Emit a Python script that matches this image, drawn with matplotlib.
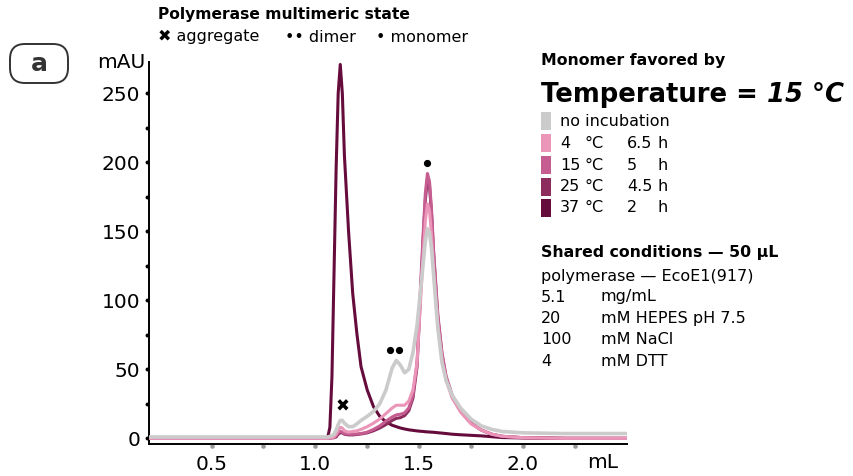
import matplotlib
matplotlib.use("Agg")
import matplotlib.pyplot as plt
from matplotlib.patches import FancyBboxPatch, Rectangle
import matplotlib.transforms as mtransforms

plt.rcParams['font.family'] = ['DejaVu Sans']

# elution volume (mL)
volume = [0.20, 0.60, 1.00, 1.05, 1.06, 1.07, 1.08, 1.09, 1.10, 1.11, 1.12, 1.13, 1.14,
          1.16, 1.18, 1.20, 1.22, 1.25, 1.28, 1.31, 1.34, 1.37, 1.39, 1.41, 1.43, 1.45,
          1.47, 1.49, 1.51, 1.52, 1.53, 1.54, 1.55, 1.56, 1.57, 1.59, 1.61, 1.63, 1.66,
          1.70, 1.75, 1.80, 1.85, 1.90, 2.00, 2.20, 2.50]

# absorbance (mAU) per condition
no_incubation = [1, 1, 1, 1, 1, 1.5, 2, 3, 6, 10, 13, 13, 11,
                 8.5, 8.5, 10.5, 13, 16, 19.5, 25, 35, 51, 56.5, 53, 47.5, 50,
                 62, 82, 112, 128, 143, 152, 149, 137, 118, 80, 55, 42, 31,
                 22, 14, 9, 6.5, 5, 4, 3.5, 3.5]
c4_6h5 = [0, 0, 0, 0, 0, 0.3, 0.5, 1, 3, 6, 8, 7.5, 5.5,
          4.5, 5, 5.5, 6.5, 8.5, 11, 14, 18, 22, 24, 24, 24, 27,
          35, 55, 108, 135, 158, 170, 165, 147, 121, 82, 57, 42, 29,
          19, 10.5, 6, 3, 1.5, 0.5, 0, 0]
c15_5h = [0, 0, 0, 0, 0, 0.2, 0.4, 0.5, 2, 4, 5, 4.5, 3.5,
          3, 3, 3.2, 3.5, 4.5, 6.5, 9, 12.5, 15.5, 17, 17.5, 18.5, 22,
          31, 55, 120, 150, 178, 192, 186, 165, 135, 90, 62, 45, 31,
          20, 11, 6, 3, 1.5, 0.5, 0, 0]
c25_4h5 = [0, 0, 0, 0, 0, 0.2, 0.4, 0.5, 1, 3, 4, 4, 3,
           2.5, 2.5, 2.8, 3.2, 4, 5.5, 7.5, 10, 13, 14.5, 15, 16.5, 20,
           29, 52, 115, 146, 173, 188, 183, 162, 133, 88, 61, 44, 30,
           19.5, 11, 6, 3, 1.5, 0.5, 0, 0]
c37_2h = [0, 0, 0, 0.3, 1, 8, 45, 120, 195, 250, 271, 250, 205,
          150, 105, 76, 52, 35, 23, 16, 12, 9.5, 8.5, 7.5, 6.8, 6.2,
          5.8, 5.4, 5.1, 5, 4.8, 4.7, 4.6, 4.5, 4.4, 4.1, 3.8, 3.5, 3,
          2.6, 2.2, 1.8, 1.2, 0.6, 0.3, 0, 0]

labels = ["no incubation", "4", "15", "25", "37"]
times = ["", "6.5", "5", "4.5", "2"]
colors = ["#cbcbcb", "#eb95b9", "#c65d91", "#8c2d5e", "#650c3c"]

W, H = 854, 476


def fx(x):
    return x / W


def fy(y):
    return 1 - y / H


fig = plt.figure(figsize=(W / 100, H / 100), dpi=100)
ax = fig.add_axes([fx(149.3), fy(444.3), (626.7 - 149.3) / W, (444.3 - 61.7) / H])

ax.plot(volume, c37_2h, color=colors[4], lw=2.2, solid_capstyle='round', zorder=3)
ax.plot(volume, c25_4h5, color=colors[3], lw=2.2, solid_capstyle='round', zorder=4)
ax.plot(volume, c15_5h, color=colors[2], lw=2.2, solid_capstyle='round', zorder=5)
ax.plot(volume, c4_6h5, color=colors[1], lw=2.2, solid_capstyle='round', zorder=6)
ax.plot(volume, no_incubation, color=colors[0], lw=2.6, solid_capstyle='round', zorder=7)

ax.set_xlim(0.2, 2.5)
ax.set_ylim(-4.3, 273)
for s in ['top', 'right']:
    ax.spines[s].set_visible(False)
for s in ['left', 'bottom']:
    ax.spines[s].set_linewidth(1.4)
    ax.spines[s].set_color('black')

ax.set_xticks([0.5, 1.0, 1.5, 2.0])
ax.set_xticklabels(["0.5", "1.0", "1.5", "2.0"])
ax.set_yticks([0, 50, 100, 150, 200, 250])
ax.tick_params(axis='both', length=0, labelsize=14.5)
ax.tick_params(axis='x', pad=7.5)
ax.tick_params(axis='y', pad=6.5)

# dot ticks
tx = mtransforms.blended_transform_factory(ax.transData, ax.transAxes)
ty = mtransforms.blended_transform_factory(ax.transAxes, ax.transData)
xdots = [0.5, 0.75, 1.0, 1.25, 1.5, 1.75, 2.0, 2.25]
ydots = [0, 25, 50, 75, 100, 125, 150, 175, 200, 225, 250]
ax.plot(xdots, [-0.004] * len(xdots), 'o', color='#9a9a9a', ms=3.3, mec='none',
        transform=tx, clip_on=False)
ax.plot([-0.004] * len(ydots), ydots, 'o', color='black', ms=2.8, mec='none',
        transform=ty, clip_on=False)

fig.text(fx(603), fy(463), "mL", ha='center', va='center', fontsize=14.5)
fig.text(fx(145), fy(62), "mAU", ha='right', va='center', fontsize=14.5)

# peak markers: aggregate, dimer, monomer
ax.text(1.132, 23, "✖", ha='center', va='center', fontsize=12, zorder=8)
ax.plot([1.36, 1.405], [64, 64], 'o', color='black', ms=5.2, mec='none', zorder=8)
ax.plot([1.538], [199.5], 'o', color='black', ms=5.2, mec='none', zorder=8)

# panel tag (pixel coordinates, origin bottom-left)
fig.patches.append(FancyBboxPatch((10, H - 83), 58, 39,
                                  boxstyle="round,pad=0,rounding_size=15",
                                  transform=mtransforms.IdentityTransform(),
                                  fc='white', ec='#333333', lw=1.4))
fig.text(fx(39), fy(64), "a", ha='center', va='center', fontsize=18,
         fontweight='bold', color='#333333')

# top header
fig.text(fx(158), fy(15), "Polymerase multimeric state", ha='left', va='center',
         fontsize=11.2, fontweight='bold')
fig.text(fx(158), fy(37), "✖ aggregate", ha='left', va='center', fontsize=11.5)
fig.text(fx(285), fy(37), "•• dimer", ha='left', va='center', fontsize=11.5)
fig.text(fx(376), fy(37), "• monomer", ha='left', va='center', fontsize=11.5)

# right panel
fig.text(fx(541), fy(61), "Monomer favored by", ha='left', va='center',
         fontsize=11.3, fontweight='bold')
t1 = fig.text(fx(541), fy(101.5), "Temperature = ", ha='left', va='baseline',
              fontsize=18.6, fontweight='bold')
fig.canvas.draw()
bb = t1.get_window_extent()
fig.text(bb.x1 / W, fy(101.5), "15 °C", ha='left', va='baseline', fontsize=18.6,
         fontweight='bold', fontstyle='italic')

rows = [121, 143, 165, 187, 208]
for i, yc in enumerate(rows):
    fig.patches.append(Rectangle((fx(541), fy(yc + 9)), 9.5 / W, 18 / H,
                                 transform=fig.transFigure, fc=colors[i], ec='none'))
    fig.text(fx(560), fy(yc), labels[i], ha='left', va='center', fontsize=11.5)
    if i > 0:
        fig.text(fx(585), fy(yc), "°C", ha='left', va='center', fontsize=11.5)
        fig.text(fx(627), fy(yc), times[i], ha='left', va='center', fontsize=11.5)
        fig.text(fx(658), fy(yc), "h", ha='left', va='center', fontsize=11.5)

fig.text(fx(541), fy(253), "Shared conditions — 50 µL", ha='left', va='center',
         fontsize=11.3, fontweight='bold')
fig.text(fx(541), fy(276), "polymerase — EcoE1(917)", ha='left', va='center',
         fontsize=11.5)
cond_amt = ["5.1", "20", "100", "4"]
cond_txt = ["mg/mL", "mM HEPES pH 7.5", "mM NaCl", "mM DTT"]
for k, (a, b) in enumerate(zip(cond_amt, cond_txt)):
    yc = 297 + k * 21.5
    fig.text(fx(541), fy(yc), a, ha='left', va='center', fontsize=11.5)
    fig.text(fx(601), fy(yc), b, ha='left', va='center', fontsize=11.5)

fig.savefig("out.png", dpi=100)
